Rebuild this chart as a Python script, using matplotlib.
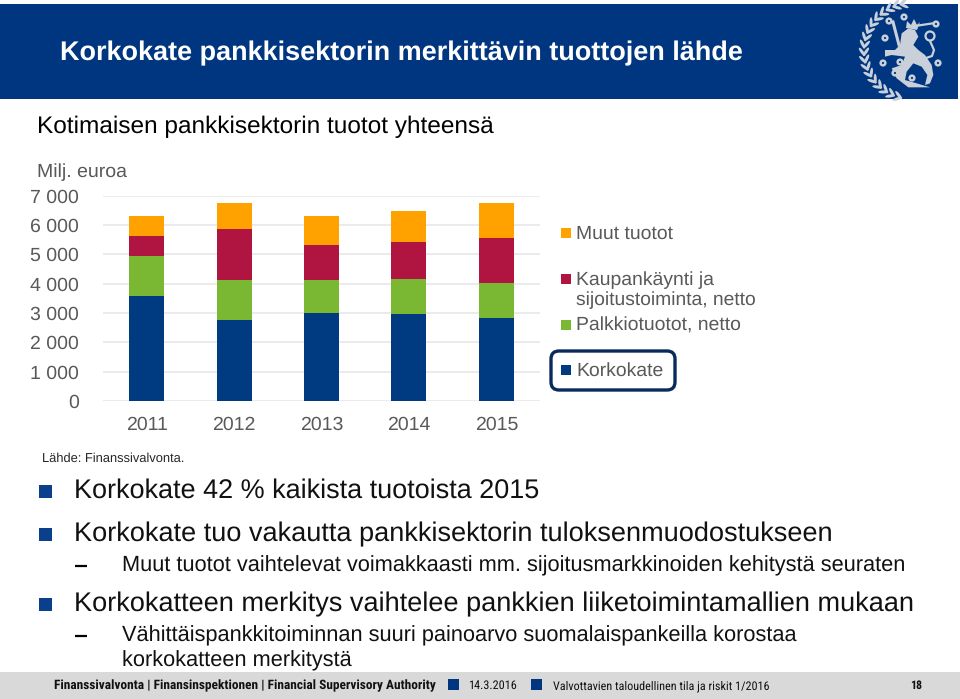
import numpy as np
import matplotlib
matplotlib.use("Agg")
import matplotlib.pyplot as plt
from matplotlib.patches import Rectangle, FancyBboxPatch, Ellipse, Circle, Polygon
from matplotlib import font_manager as fm

years = ["2011", "2012", "2013", "2014", "2015"]
korkokate = [3570, 2750, 3010, 2980, 2830]
palkkio = [1375, 1375, 1105, 1170, 1190]
kaupankaynti = [680, 1740, 1215, 1260, 1535]
muut = [695, 875, 975, 1070, 1180]
y_ticks = [0, 1000, 2000, 3000, 4000, 5000, 6000, 7000]
y_labels = ["0", "1 000", "2 000", "3 000", "4 000", "5 000", "6 000", "7 000"]

NAVY = "#003A80"
GREEN = "#7AB833"
RED = "#B01440"
ORANGE = "#FFA200"
GREY = "#595959"

plt.rcParams["text.hinting"] = "no_hinting"

names = {f.name for f in fm.fontManager.ttflist}
NARROW = "Roboto"
for cand in ("Liberation Sans Narrow", "Roboto Condensed", "Open Sans Condensed", "Noto Sans Condensed"):
    if cand in names:
        NARROW = cand
        break

fig = plt.figure(figsize=(9.6, 6.99), dpi=100, facecolor="white")
W, H = 960, 699
bg = fig.add_axes([0, 0, 1, 1], zorder=0)
bg.set_xlim(0, W); bg.set_ylim(H, 0); bg.axis("off")
renderer = fig.canvas.get_renderer()


def fit(s, x0, x1, base, color="black", weight="normal", family="Liberation Sans"):
    size = 14.0
    t = bg.text(x0, base, s, color=color, fontweight=weight, family=family, fontsize=size,
                ha="left", va="baseline", zorder=5)
    for _ in range(4):
        t._cached = {} if hasattr(t, "_cached") else None
        w = t.get_window_extent(renderer).width
        size *= (x1 - x0) / w
        t.set_fontsize(size)
    return t


# header and footer bands
bg.add_patch(Rectangle((0, 3.5), 958, 95, fc="#003580", ec="none", zorder=1))
bg.add_patch(Rectangle((0, 672), 960, 27, fc="#D9D9D9", ec="none", zorder=1))
fit("Korkokate pankkisektorin merkittävin tuottojen lähde", 60, 744, 60, "white", "bold")
fit("Kotimaisen pankkisektorin tuotot yhteensä", 37, 494, 133)

# crest: wreath, roses, lion, sword
SILVER = "#C9D0DA"
for a in np.arange(100, 262, 9):
    r = np.deg2rad(a)
    for off, tilt in ((0, 35), (4, -35)):
        cx = 912 + (46 + off) * np.cos(r)
        cy = 51 - (46 + off) * np.sin(r)
        bg.add_patch(Ellipse((cx, cy), 10, 3, angle=-a + 90 + tilt, fc=SILVER, ec="none", zorder=2))
for cx, cy in [(889, 21), (904, 17), (885, 38), (936, 24), (883, 63), (900, 62),
                (938, 63), (912, 78), (895, 73)]:
    bg.add_patch(Circle((cx, cy), 3.6, fc=SILVER, ec="none", zorder=2))
    bg.add_patch(Circle((cx, cy), 1.1, fc="#003580", ec="none", zorder=3))
lion_z = [(105, 150), (135, 150), (150, 135), (155, 100), (175, 85), (195, 90), (205, 110), (190, 135),
          (205, 150), (225, 165), (245, 195), (250, 225), (240, 250), (225, 255), (232, 225), (215, 200),
          (190, 190), (170, 215), (165, 240), (200, 250), (240, 262), (175, 262), (140, 235), (125, 205),
          (155, 195), (165, 170), (125, 165), (105, 170)]
bg.add_patch(Polygon([(850 + a / 3, b / 3) for a, b in lion_z], closed=True, fc=SILVER, ec="none", zorder=2))
bg.add_patch(Polygon([(906, 28), (907, 21), (911, 25), (914, 19), (917, 25), (920, 22), (917, 30)],
                     closed=True, fc=SILVER, ec="none", zorder=2))
bg.plot([915, 935], [26, 23], color=SILVER, lw=1.6, zorder=2)
bg.plot([893, 899], [22, 45], color=SILVER, lw=2.2, zorder=2)
bg.add_patch(Circle((930, 36), 4.5, fc="none", ec=SILVER, lw=1.6, zorder=2))
bg.plot([930, 934, 932, 926], [41, 50, 56, 58], color=SILVER, lw=1.6, zorder=2)

# chart
ax = fig.add_axes([103 / W, 1 - 401 / H, 437 / W, 205.3 / H], zorder=1)
ax.patch.set_alpha(0)
x = np.arange(len(years))
bottom = np.zeros(len(years))
for vals, col in ((korkokate, NAVY), (palkkio, GREEN), (kaupankaynti, RED), (muut, ORANGE)):
    ax.bar(x, vals, 0.4, bottom=bottom, color=col, zorder=3, linewidth=0)
    bottom += np.array(vals)
ax.set_xlim(-0.5, 4.5)
ax.set_ylim(0, 7000)
ax.set_yticks(y_ticks, y_labels)
ax.set_xticks(x, years)
ax.grid(axis="y", color="#E6E6EA", lw=1.1, zorder=0)
ax.set_axisbelow(True)
for s in ax.spines.values():
    s.set_visible(False)
ax.tick_params(length=0, labelcolor=GREY, labelsize=14.0, labelfontfamily="Liberation Sans")
ax.tick_params(axis="y", pad=17.5)
ax.tick_params(axis="x", pad=11)

fit("Milj. euroa", 37, 127, 177, GREY)
fit("Lähde: Finanssivalvonta.", 42, 185, 462, "#262626")

# legend
legend_entries = [("Muut tuotot", ORANGE, 233, 673), ("Kaupankäynti ja", RED, 279, 714),
                  ("Palkkiotuotot, netto", GREEN, 325, 741), ("Korkokate", NAVY, 370, 663)]
for label, col, yc, x1 in legend_entries:
    bg.add_patch(Rectangle((561, yc - 5), 10, 10, fc=col, ec="none", zorder=3))
    fit(label, 576, x1, yc + 6, GREY)
fit("sijoitustoiminta, netto", 576, 757, 305, GREY)
bg.add_patch(FancyBboxPatch((556, 356), 114, 29, boxstyle="round,pad=5,rounding_size=8",
                            fc="none", ec="#0B2A5C", lw=2.4, zorder=4))

# bullets
bullets = [("Korkokate 42 % kaikista tuotoista 2015", 74, 541, 498, True),
           ("Korkokate tuo vakautta pankkisektorin tuloksenmuodostukseen", 74, 832, 541, True),
           ("Muut tuotot vaihtelevat voimakkaasti mm. sijoitusmarkkinoiden kehitystä seuraten", 122, 904, 571, False),
           ("Korkokatteen merkitys vaihtelee pankkien liiketoimintamallien mukaan", 74, 915, 611, True),
           ("Vähittäispankkitoiminnan suuri painoarvo suomalaispankeilla korostaa", 122, 796, 641, False),
           ("korkokatteen merkitystä", 122, 352, 666, None)]
for s, x0, x1, base, kind in bullets:
    fit(s, x0, x1, base, "#111111")
    if kind is True:
        bg.add_patch(Rectangle((38.5, base - 13), 13, 13, fc="#0A3F8C", ec="none", zorder=3))
    elif kind is False:
        bg.plot([75, 87], [base - 5, base - 5], color="black", lw=1.6, zorder=3, solid_capstyle="butt")

# footer
fit("Finanssivalvonta | Finansinspektionen | Financial Supervisory Authority", 54, 434, 689, "#111111", "bold", NARROW)
fit("14.3.2016", 468, 517, 689, "#111111", "normal", NARROW)
fit("Valvottavien taloudellinen tila ja riskit 1/2016", 553, 771, 689, "#111111", "normal", NARROW)
fit("18", 910, 922, 689, "#111111", "bold", NARROW)
for x0 in (448, 531):
    bg.add_patch(Rectangle((x0, 679), 11, 11, fc="#003580", ec="none", zorder=3))

fig.savefig("out.png", dpi=100)
